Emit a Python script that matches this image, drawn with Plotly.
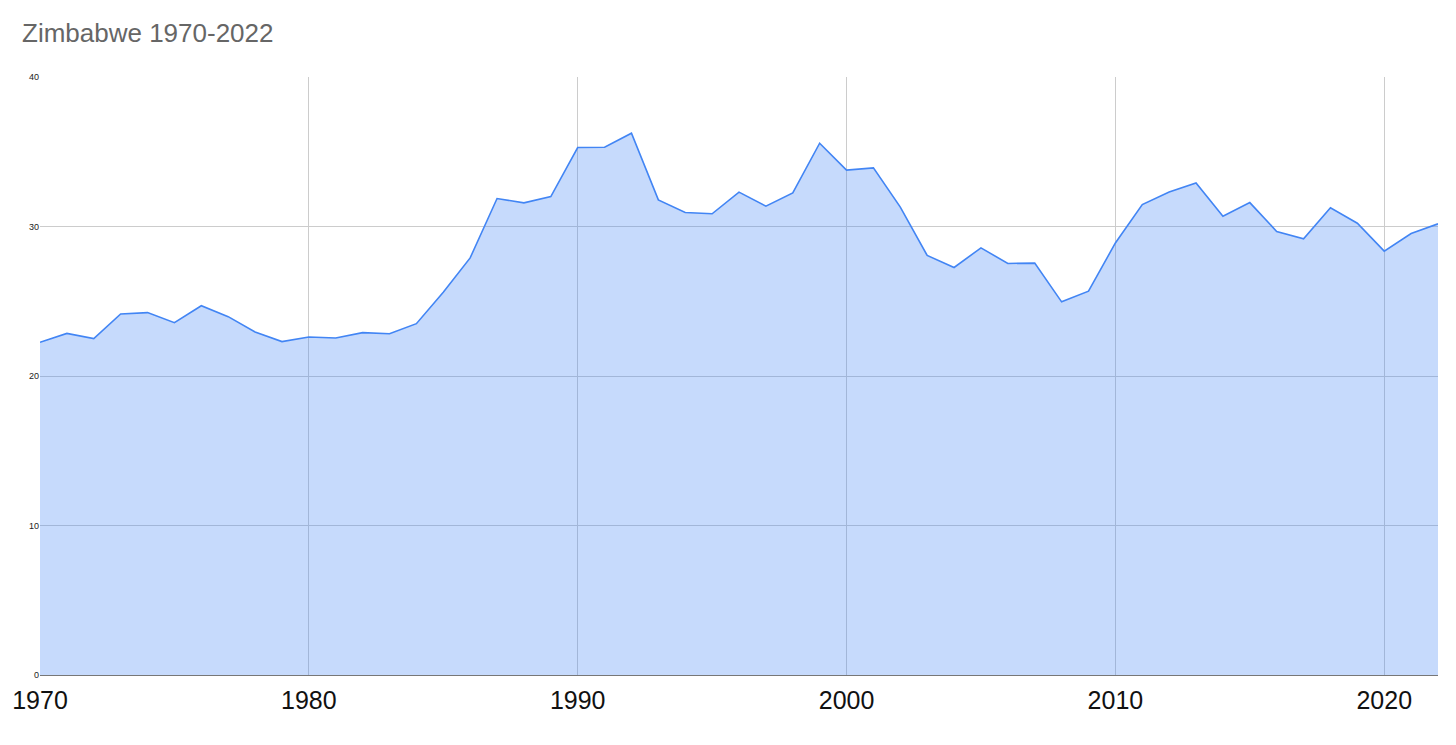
import plotly.graph_objects as go

years = list(range(1970, 2023))
values = [22.25, 22.85, 22.50, 24.15, 24.24, 23.57, 24.70, 23.97, 22.94, 22.30,
          22.61, 22.54, 22.90, 22.83, 23.50, 25.60, 27.90, 31.87, 31.58, 32.00,
          35.28, 35.30, 36.24, 31.78, 30.94, 30.85, 32.30, 31.36, 32.25, 35.57,
          33.77, 33.92, 31.30, 28.06, 27.26, 28.57, 27.53, 27.55, 24.96, 25.67,
          28.90, 31.47, 32.31, 32.91, 30.68, 31.60, 29.67, 29.18, 31.25, 30.22,
          28.35, 29.53, 30.18]
x_ticks = [1970, 1980, 1990, 2000, 2010, 2020]
y_ticks = [0, 10, 20, 30, 40]

fig = go.Figure()
fig.add_trace(go.Scatter(
    x=years, y=values, mode="lines", fill="tozeroy",
    line=dict(color="#4285f4", width=1.6),
    fillcolor="rgba(66,133,244,0.3)",
    hoverinfo="x+y", showlegend=False,
))

# page body has an 8px margin, so the figure is sized to fit the window
fig.update_layout(
    width=1448, height=737,
    margin=dict(l=32, r=18, t=69, b=70, autoexpand=False),
    paper_bgcolor="white", plot_bgcolor="white",
    font=dict(family="Liberation Sans, Arial, sans-serif"),
    title=dict(text="Zimbabwe 1970-2022", x=14/1448, xref="container", xanchor="left",
               y=1-25/737, yref="container", yanchor="middle",
               font=dict(size=26, color="#666666")),
)
fig.update_xaxes(
    range=[1970, 2022], tickvals=x_ticks, ticktext=[str(v) for v in x_ticks],
    showgrid=True, gridcolor="#cccccc", gridwidth=1,
    showline=True, linecolor="#777777", linewidth=1,
    ticks="", tickfont=dict(size=25, color="#111111"), zeroline=False,
    automargin=False, ticklabelstandoff=3,
)
fig.update_yaxes(
    range=[0, 40], tickvals=y_ticks, ticktext=[str(v) for v in y_ticks],
    showgrid=True, gridcolor="#cccccc", gridwidth=1,
    ticks="", tickfont=dict(size=9, color="#222222"), zeroline=False,
    showline=False, automargin=False,
)

fig.write_html("out.html")
